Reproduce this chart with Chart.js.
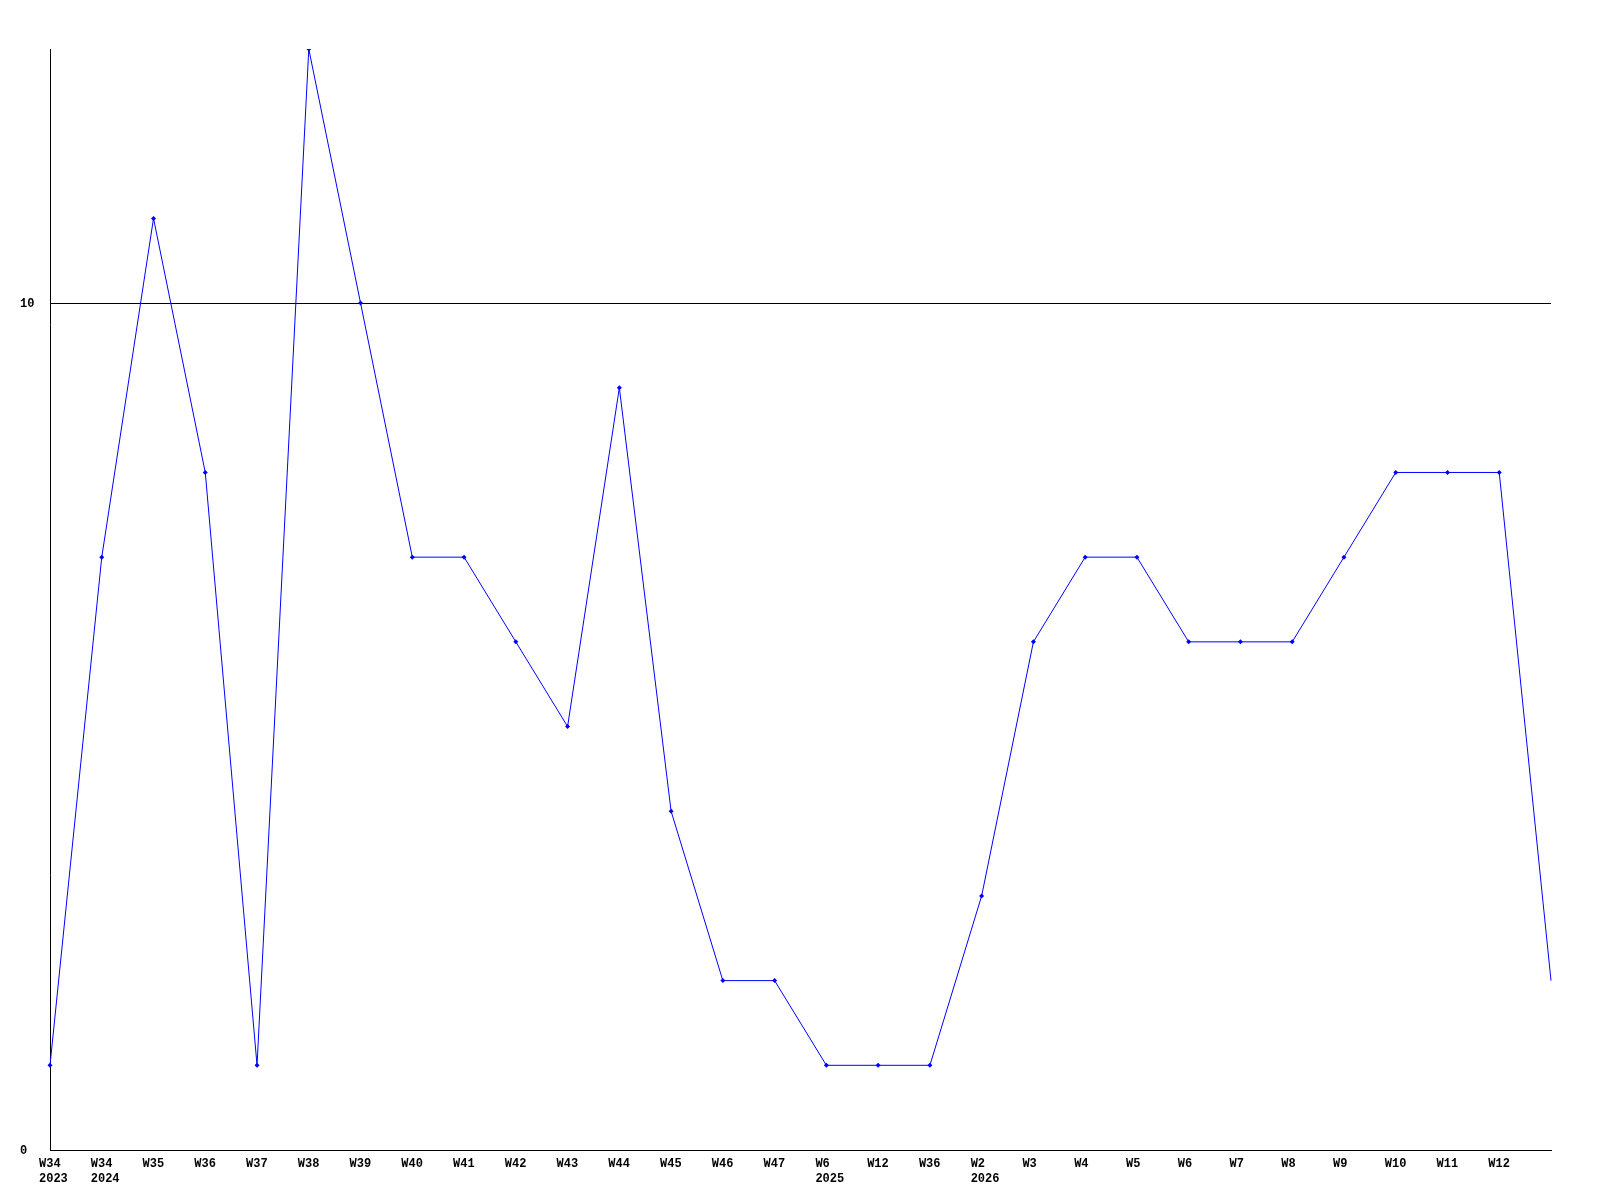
<!DOCTYPE html>
<html><head><meta charset="utf-8">
<script src="https://cdn.jsdelivr.net/npm/chart.js@4/dist/chart.umd.min.js"></script>
<style>html,body{margin:0;padding:0;background:#fff}#wrap{width:1600px;height:1200px}</style>
</head><body><div id="wrap"><canvas id="c" width="1600" height="1200"></canvas></div>
<script>
const weekLabels = ["W34","W34","W35","W36","W37","W38","W39","W40","W41","W42","W43","W44","W45","W46","W47","W6","W12","W36","W2","W3","W4","W5","W6","W7","W8","W9","W10","W11","W12",""];
const yearLabels = ["2023","2024","","","","","","","","","","","","","","2025","","","2026","","","","","","","","","",""," "];
const values = [1,7,11,8,1,13,10,7,7,6,5,9,4,2,2,1,1,1,3,6,7,7,6,6,6,7,8,8,8,2];
const yTicks = [0,10];
const yMax = 13;

const labels = weekLabels.map((w,i)=> yearLabels[i] && yearLabels[i].trim() ? [w, yearLabels[i]] : w);
const font = {family:"'Liberation Mono', 'DejaVu Sans Mono', monospace", size:12, weight:'bold'};
const radii = values.map((v,i)=> i === values.length-1 ? 0 : 2.5);

new Chart(document.getElementById('c'), {
  type:'line',
  data:{labels, datasets:[{data:values, borderColor:'#0000ff', backgroundColor:'#0000ff', borderWidth:1, pointStyle:'rectRot', pointRadius:radii, pointBorderWidth:0, tension:0}]},
  options:{
    responsive:false, animation:false,
    layout:{padding:{left:20, top:49, right:49, bottom:0}},
    plugins:{legend:{display:false}, tooltip:{enabled:false}},
    scales:{
      x:{
        offset:false,
        grid:{display:false, drawTicks:false},
        border:{display:true, color:'#000', width:1},
        ticks:{autoSkip:false, maxRotation:0, minRotation:0, align:'start', labelOffset:-11, padding:7, color:'#000', font},
        afterFit:(s)=>{s.height=50;}
      },
      y:{
        min:0, max:yMax,
        afterBuildTicks:(s)=>{s.ticks = yTicks.map(v=>({value:v}));},
        grid:{color:'#000', lineWidth:1, drawTicks:false},
        border:{display:true, color:'#000', width:1},
        ticks:{crossAlign:'far', padding:0, labelOffset:1, color:'#000', font},
        afterFit:(s)=>{s.width=30;}
      }
    }
  }
});
</script></body></html>
